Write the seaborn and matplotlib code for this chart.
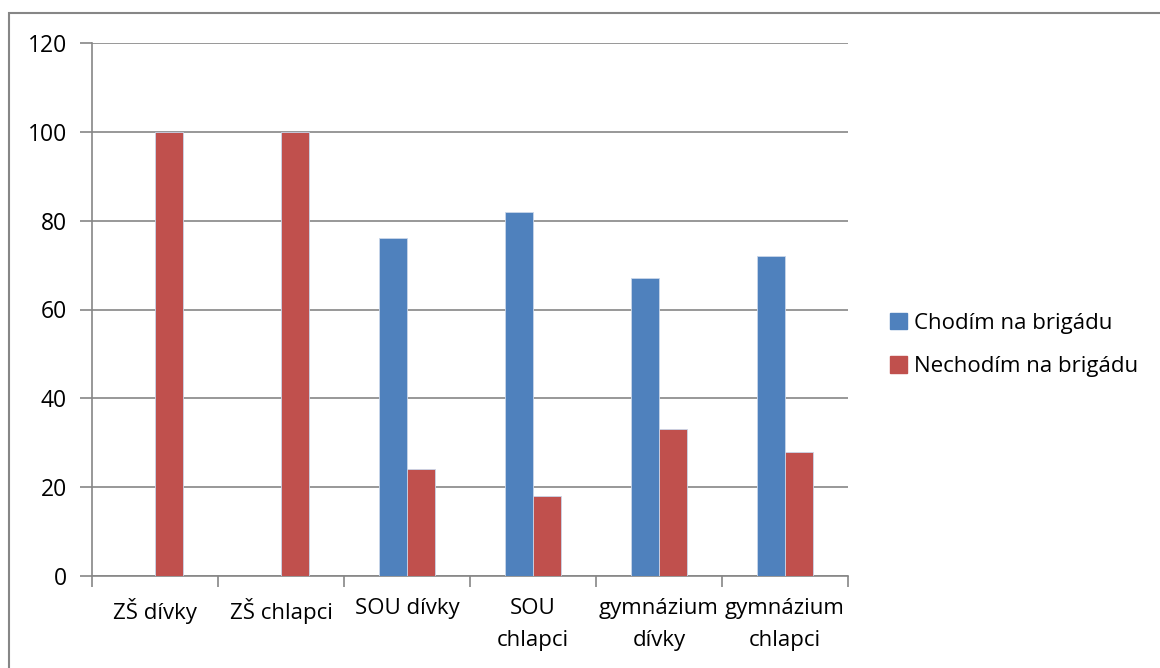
import pandas as pd
import matplotlib.pyplot as plt
import seaborn as sns
from matplotlib.patches import Rectangle

# Data
categories = ['ZŠ dívky', 'ZŠ chlapci', 'SOU\u00a0dívky', 'SOU\nchlapci', 'gymnázium\ndívky', 'gymnázium\nchlapci']
chodim = [0, 0, 76, 82, 67, 72]
nechodim = [100, 100, 24, 18, 33, 28]
series = ['Chodím na brigádu', 'Nechodím na brigádu']
colors = ['#4F81BD', '#C0504D']
yticks = [0, 20, 40, 60, 80, 100, 120]

df = pd.DataFrame({
    'kategorie': categories * 2,
    'hodnota': chodim + nechodim,
    'serie': [series[0]] * len(categories) + [series[1]] * len(categories),
})

sns.set_style('white')
plt.rcParams['font.family'] = ['Open Sans', 'DejaVu Sans']
plt.rcParams['text.color'] = 'black'
plt.rcParams['xtick.labelcolor'] = 'black'
plt.rcParams['ytick.labelcolor'] = 'black'

fig = plt.figure(figsize=(11.6, 6.68), dpi=100)
ax = fig.add_axes([92 / 1160, 1 - 576 / 668, (848 - 92) / 1160, (576 - 43) / 668])

sns.barplot(data=df, x='kategorie', y='hodnota', hue='serie', palette=colors,
            width=0.44, ax=ax, saturation=1, legend=False, zorder=3,
            edgecolor='#C9D6EA', linewidth=0.6)

grid_c = '#868686'
ax.set_ylim(0, 120)
ax.set_xlim(-0.5, len(categories) - 0.5)
ax.set_yticks(yticks)
ax.yaxis.grid(True, color=grid_c, linewidth=1.2, zorder=0)
ax.set_axisbelow(True)
for s in ['top', 'right']:
    ax.spines[s].set_visible(False)
for s in ['left', 'bottom']:
    ax.spines[s].set_color(grid_c)
    ax.spines[s].set_linewidth(1.2)

# x ticks at category boundaries
ax.set_xticks(range(len(categories)))
ax.set_xticklabels(categories, fontsize=16, linespacing=1.65, va='top')
ax.set_xticks([i - 0.5 for i in range(len(categories) + 1)], minor=True)
ax.tick_params(axis='x', which='minor', bottom=True, length=8, color=grid_c, width=1.2)
ax.tick_params(axis='x', which='major', bottom=False, length=0, pad=16)
ax.tick_params(axis='y', left=True, length=9, color=grid_c, width=1.2, pad=9, labelsize=16.5)
ax.set_xlabel('')
ax.set_ylabel('')

# legend
handles = [Rectangle((0, 0), 1, 1, color=c) for c in colors]
fig.legend(handles, series, loc='center left', bbox_to_anchor=(870 / 1160, 1 - 345 / 668),
           frameon=False, fontsize=16, handlelength=0.75, handleheight=0.75,
           handletextpad=0.35, labelspacing=1.0)

# outer chart border (runs off the right and bottom edges)
fig.add_artist(Rectangle((9 / 1160, -20 / 668), 1200 / 1160, (668 - 13 + 20) / 668,
                         transform=fig.transFigure, fill=False, edgecolor=grid_c, linewidth=1.5))

plt.savefig('out.png', dpi=100)
